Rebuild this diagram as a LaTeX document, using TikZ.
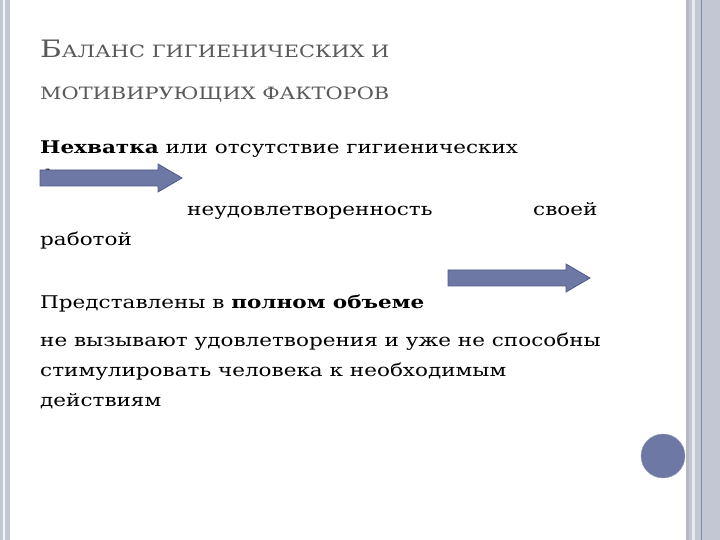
\documentclass[tikz,border=0pt]{standalone}
\usepackage{fontspec}
\setmainfont{DejaVu Serif}[FakeStretch=1.23]
\definecolor{arr}{HTML}{6E78A4}
\definecolor{arrd}{HTML}{4E5A88}
\definecolor{tgray}{HTML}{595959}
\definecolor{strip}{HTML}{C3C7D3}
\tikzset{
 body/.style={anchor=base west,inner sep=0,font=\fontsize{17.5}{20}\selectfont,text=black},
 ttl/.style={anchor=base west,inner sep=0,text=tgray},
 bigarrow/.style={fill=arr,draw=arrd,line width=0.8pt,line join=miter}
}
\newcommand{\fatarrow}[2]{% #1 x-left, #2 y-center
 \draw[bigarrow] (#1,#2+8) -- (#1+118,#2+8) -- (#1+118,#2+14) -- (#1+142,#2) -- (#1+118,#2-14) -- (#1+118,#2-8) -- (#1,#2-8) -- cycle;}
\begin{document}
\begin{tikzpicture}[x=1pt,y=1pt]
\useasboundingbox (0,0) rectangle (720,540);
\fill[white] (0,0) rectangle (720,540);
% borders
\fill[strip] (0,0) rectangle (10,540);
\fill[white!80!strip] (3,0) rectangle (5,540);
\fill[strip] (689,0) rectangle (720,540);
\fill[white!60!strip] (692,0) rectangle (695,540);
\draw[arrd!70,line width=0.8pt] (701,0) -- (701,540);
\fill[strip!80!gray] (686,0) rectangle (689,540);
\node[circle,fill=arr,draw=arrd!60,minimum size=44pt,inner sep=0] (dot) at (663,84) {};
% title
\node[ttl] (t1) at (40,482) {\fontsize{24}{26}\selectfont Б\fontsize{17}{20}\selectfont АЛАНС ГИГИЕНИЧЕСКИХ И};
\node[ttl] (t2) at (40,440) {\fontsize{17}{20}\selectfont МОТИВИРУЮЩИХ ФАКТОРОВ};
% body
\node[body] (l1) at (40,386) {\textbf{Нехватка} или отсутствие гигиенических};
\node[body] (l2) at (40,357) {факторов};
\node[body] (l3) at (187,324) {неудовлетворенность};
\node[body] (l3b) at (533,324) {своей};
\node[body] (l4) at (40,294) {работой};
\node[body] (l5) at (40,231) {Представлены в \textbf{полном объеме}};
\node[body] (l6) at (40,193) {не вызывают удовлетворения и уже не способны};
\node[body] (l7) at (40,163) {стимулировать человека к необходимым};
\node[body] (l8) at (40,133) {действиям};
% arrows
\fatarrow{40}{362}
\fatarrow{448}{262}
\end{tikzpicture}
\end{document}
